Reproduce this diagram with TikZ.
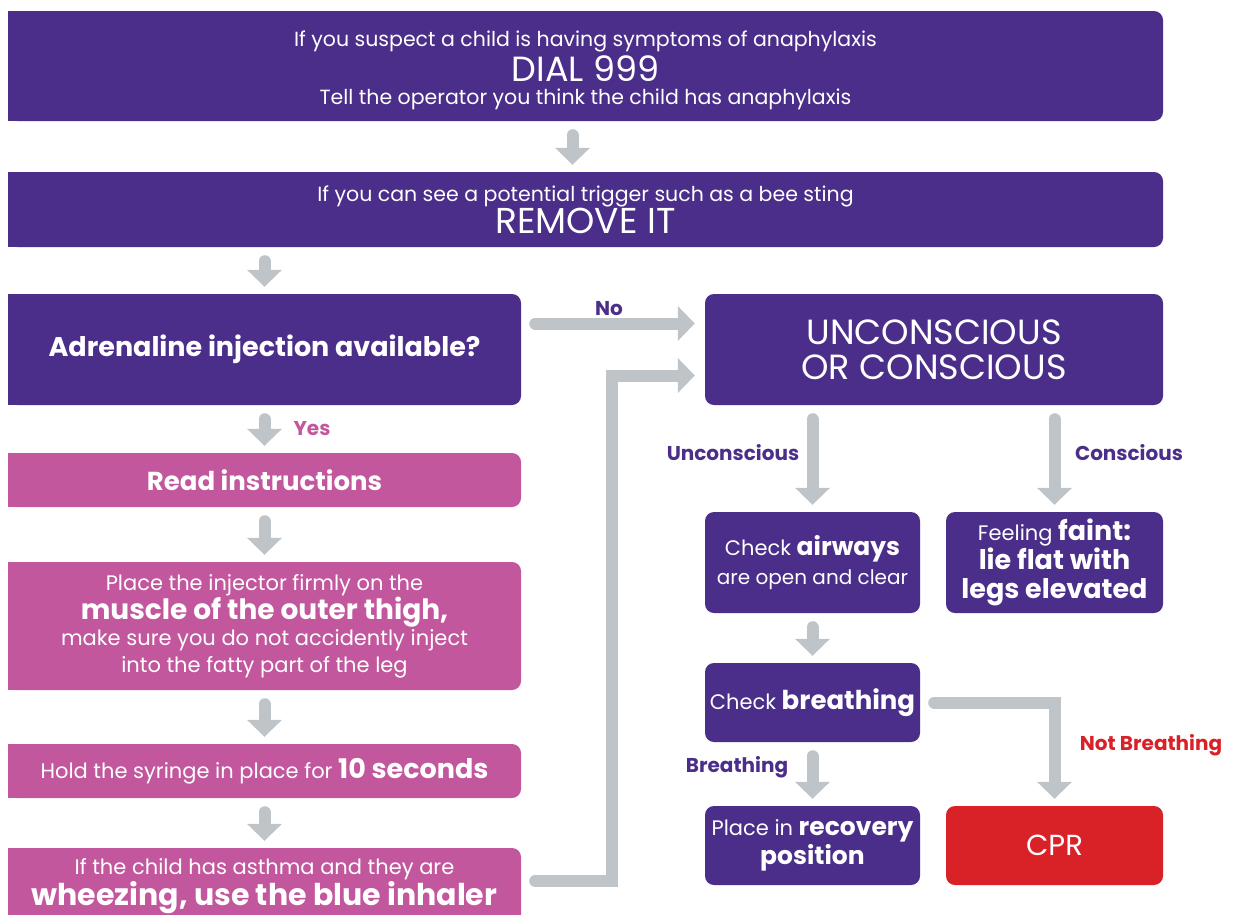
\documentclass[tikz,border=0pt]{standalone}
\usepackage{fontspec}
\setmainfont{Poppins}
\usetikzlibrary{arrows.meta,backgrounds}
\definecolor{purp}{RGB}{74,46,137}
\definecolor{pinkb}{RGB}{194,87,158}
\definecolor{arrgrey}{RGB}{190,196,200}
\definecolor{cprred}{RGB}{217,33,40}
% bold part inside a line of plain text
\newcommand{\bb}[2][25]{{\fontsize{#1}{#1}\selectfont\bfseries #2}}
\tikzset{
  box/.style={fill=purp, text=white, rounded corners=9pt, inner sep=0pt, align=center,
    font=\fontsize{21}{29}\selectfont},
  pbox/.style={box, fill=pinkb},
  arr/.style={draw=arrgrey, line width=12pt, line cap=round,
    -{Triangle[width=34pt,length=17pt]}, shorten <=14pt, shorten >=7pt},
  lab/.style={font=\fontsize{20}{20}\selectfont\bfseries, text=purp, inner sep=0pt},
}
\begin{document}
\begin{tikzpicture}[x=1pt,y=-1pt]
\useasboundingbox (0,0) rectangle (1241,914);
% top boxes
\node[box, minimum width=1155pt, minimum height=110pt,
  font=\fontsize{20.5}{30}\selectfont] (dial) at (585.5,66)
  {\rule{0pt}{24pt}If you suspect a child is having symptoms of anaphylaxis\\[3pt]
   {\fontsize{35}{35}\selectfont DIAL 999}\\[-7pt]
   Tell the operator you think the child has anaphylaxis};
\node[box, minimum width=1155pt, minimum height=75pt,
  font=\fontsize{20.5}{32}\selectfont] (remove) at (585.5,209.5)
  {If you can see a potential trigger such as a bee sting\\
   {\fontsize{36}{36}\selectfont REMOVE IT}};
% left column
\node[box, minimum width=513pt, minimum height=111pt] (adren) at (264.5,349.5)
  {\bb[27]{Adrenaline injection available?}};
\node[pbox, minimum width=513pt, minimum height=54pt] (read) at (264.5,480)
  {\bb[26]{Read instructions}};
\node[pbox, minimum width=513pt, minimum height=128pt,
  font=\fontsize{21}{26.5}\selectfont] (place) at (264.5,626)
  {Place the injector firmly on the\\
   \bb[28]{muscle of the outer thigh,}\\
   make sure you do not accidently inject\\
   into the fatty part of the leg};
\node[pbox, minimum width=513pt, minimum height=54pt] (hold) at (264.5,771)
  {Hold the syringe in place for \bb[27]{10 seconds}};
\node[pbox, minimum width=513pt, minimum height=76pt] (asthma) at (264.5,886)
  {If the child has asthma and they are\\
   \bb[30]{wheezing, use the blue inhaler}};
% right column
\node[box, minimum width=458pt, minimum height=111pt,
  font=\fontsize{35}{35}\selectfont] (uncon) at (934,349.5)
  {UNCONSCIOUS\\ OR CONSCIOUS};
\node[box, minimum width=215pt, minimum height=101pt] (airways) at (812.5,562.5)
  {Check \bb{airways}\\ {\fontsize{20}{20}\selectfont are open and clear}};
\node[box, minimum width=217pt, minimum height=101pt] (faint) at (1054.5,562.5)
  {Feeling \bb[27]{faint:}\\ \bb[27]{lie flat with}\\ \bb[27]{legs elevated}};
\node[box, minimum width=215pt, minimum height=79pt] (breath) at (812.5,702.5)
  {Check \bb[26]{breathing}};
\node[box, minimum width=215pt, minimum height=79pt] (recov) at (812.5,845.5)
  {Place in \bb{recovery}\\ \bb{position}};
\node[box, fill=cprred, minimum width=217pt, minimum height=79pt] (cpr) at (1054.5,845.5)
  {{\fontsize{29}{29}\selectfont CPR}};
% square left edge of the wide boxes
\begin{scope}[on background layer]
  \foreach \b/\c in {dial/purp,remove/purp,adren/purp,read/pinkb,place/pinkb,hold/pinkb,asthma/pinkb}
    \fill[\c] (\b.north west) rectangle ([xshift=12pt]\b.south west);
  \fill[pinkb] ([yshift=12pt]asthma.south west) rectangle (asthma.south east);
\end{scope}
% labels
\node[lab] (lno) at (609,309) {No};
\node[lab, text=pinkb] (lyes) at (312,429) {Yes};
\node[lab] (lunc) at (733,453) {Unconscious};
\node[lab] (lcon) at (1129,453) {Conscious};
\node[lab] (lbr) at (737,767) {Breathing};
\node[lab, text=cprred] (lnbr) at (1151,745) {Not Breathing};
% arrows
\coordinate (bend) at (612,0);
\draw[arr] ([xshift=-13pt]dial.south) -- ([xshift=-13pt]remove.north);
\draw[arr] (remove.south -| adren.north) -- (adren.north);
\draw[arr] (adren) -- (read);
\draw[arr] (read) -- (place);
\draw[arr] (place) -- (hold);
\draw[arr] (hold) -- (asthma);
\draw[arr, shorten >=10pt] ([yshift=26pt]adren.east) -- ([yshift=26pt]uncon.west);
\draw[arr, shorten >=10pt] ([yshift=5pt]asthma.east) -- ([yshift=5pt]asthma.east -| bend) |- ([yshift=-26pt]uncon.west);
\draw[arr] (uncon.south -| airways.north) -- (airways.north);
\draw[arr] (uncon.south -| faint.north) -- (faint.north);
\draw[arr] (airways) -- (breath);
\draw[arr] (breath) -- (recov);
\draw[arr] (breath.east) -| (cpr.north);
\end{tikzpicture}
\end{document}
